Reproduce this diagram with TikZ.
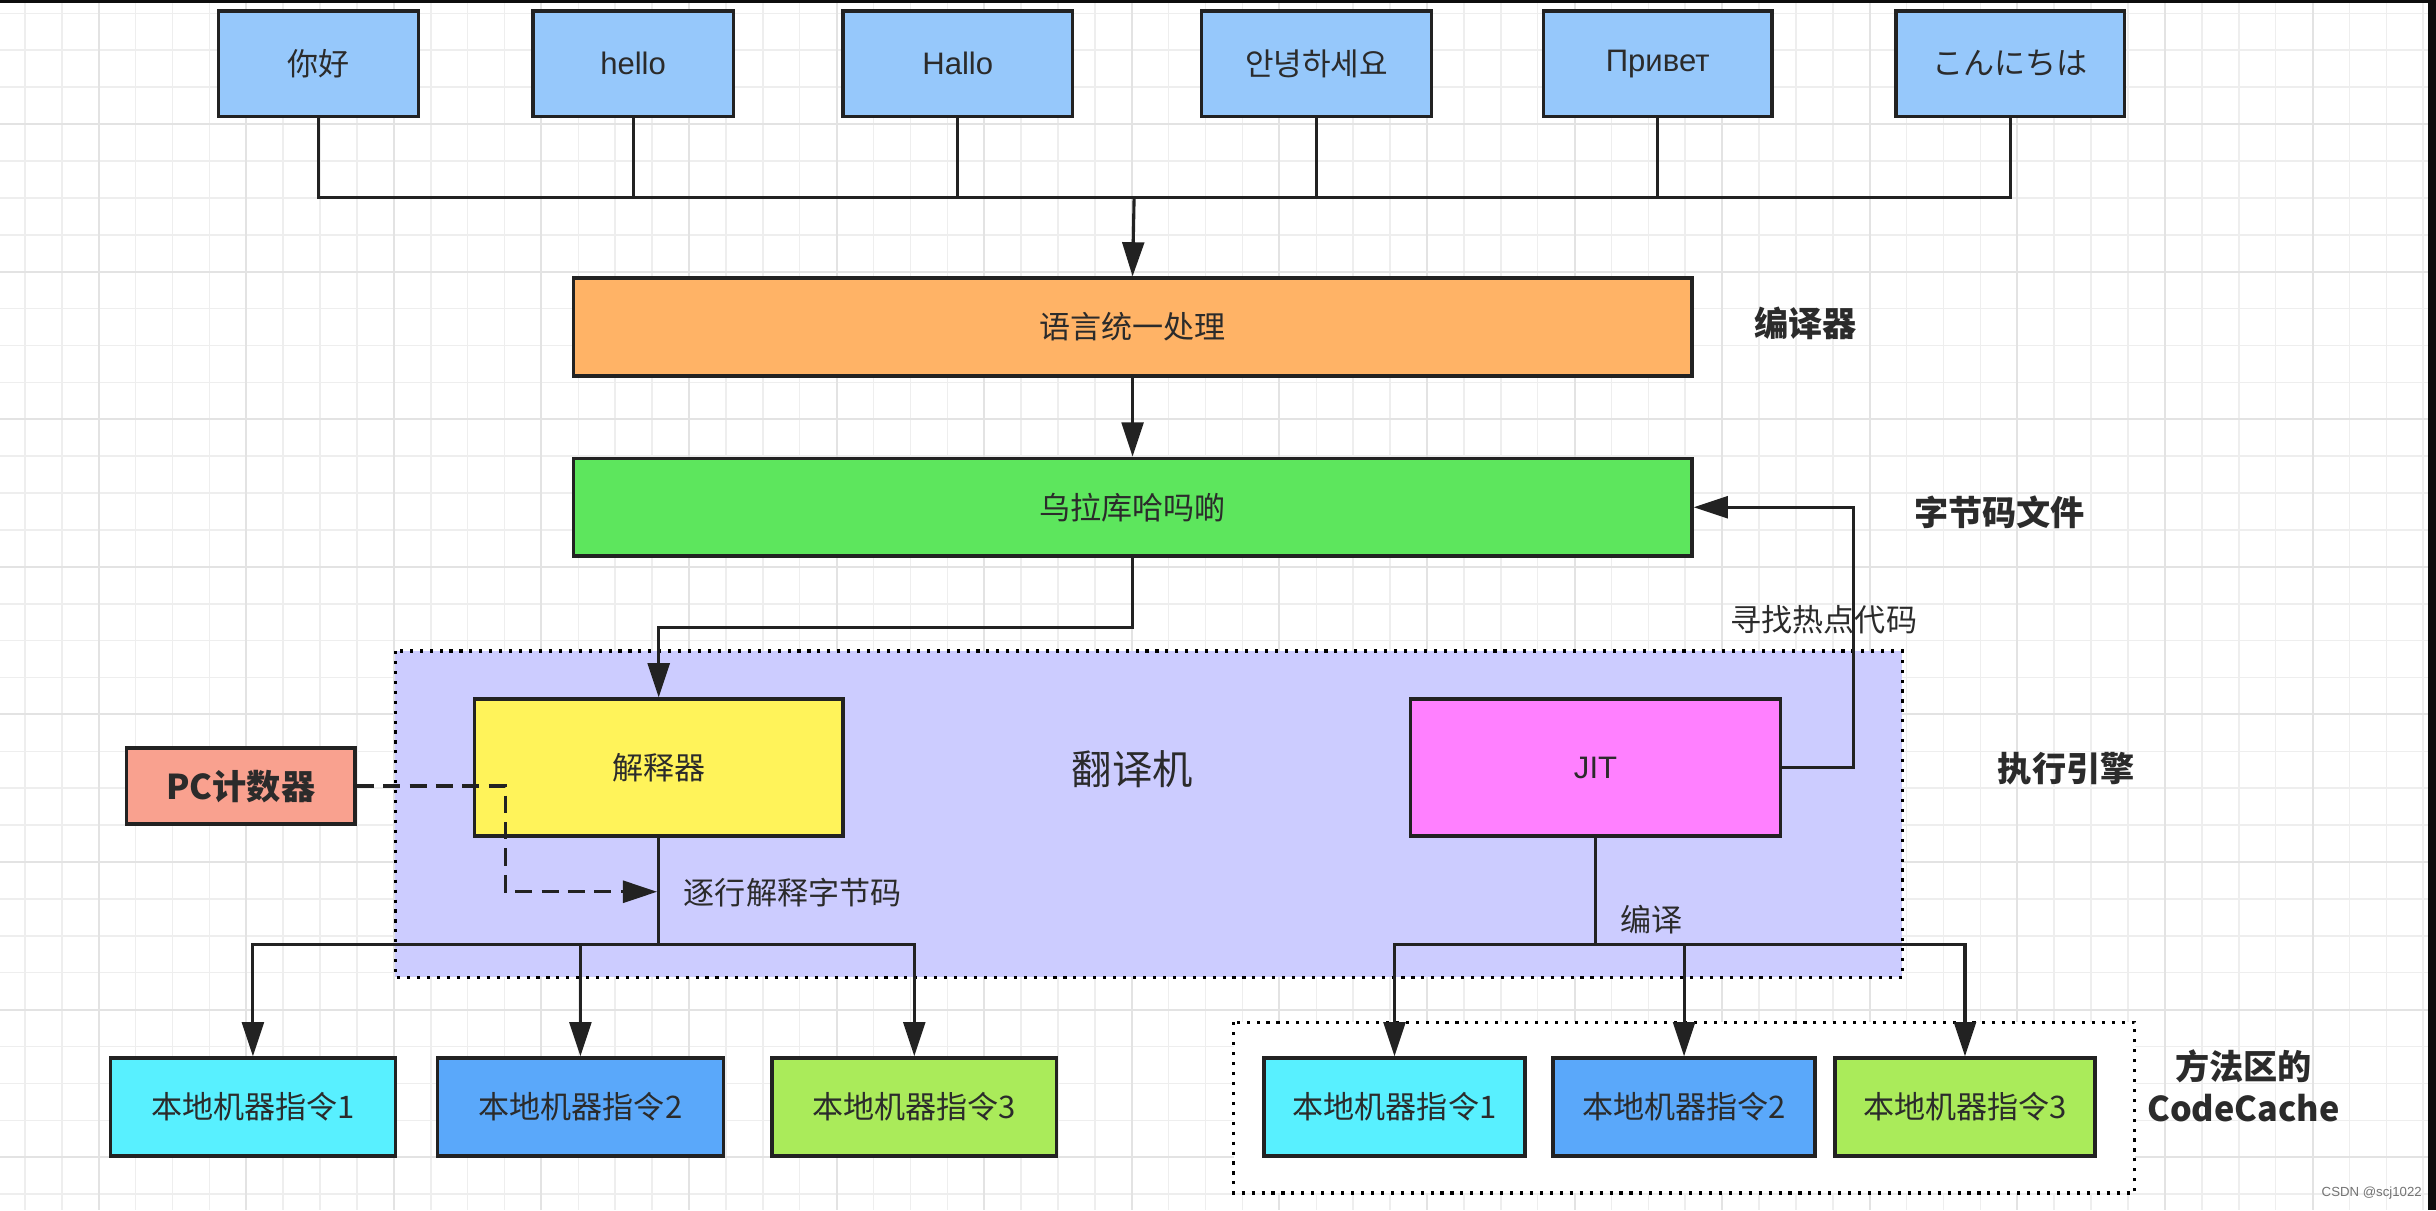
\documentclass[tikz,border=0pt]{standalone}
\usepackage{fontspec}
\setmainfont{Noto Sans CJK SC}
\newfontfamily\latf{Liberation Sans}
\usetikzlibrary{arrows.meta}
\definecolor{cTop}{HTML}{96C8FB}
\definecolor{cOrange}{HTML}{FFB366}
\definecolor{cGreen}{HTML}{5DE65D}
\definecolor{cLav}{HTML}{CCCCFF}
\definecolor{cYellow}{HTML}{FFF35A}
\definecolor{cMag}{HTML}{FF80FF}
\definecolor{cPC}{HTML}{F9A18F}
\definecolor{cCyan}{HTML}{58F0FF}
\definecolor{cBlue}{HTML}{5AA8FA}
\definecolor{cLime}{HTML}{AAEB5A}
\definecolor{cInk}{HTML}{2B2B2B}
\definecolor{cLine}{HTML}{222222}
\definecolor{gMinor}{HTML}{EEEEEE}
\definecolor{gMajor}{HTML}{E3E3E3}
\begin{document}
\begin{tikzpicture}[x=1pt,y=-1pt,
  box/.style={draw=cLine, line width=2.2pt, rectangle, inner sep=0pt, text=cInk,
              font=\fontsize{20}{24}\selectfont},
  conn/.style={draw=cLine, line width=2pt},
  arr/.style={conn, -{Triangle[length=22pt,width=14pt]}},
  dasharr/.style={draw=cLine, line width=2.2pt, dash pattern=on 11pt off 6pt,
                  -{Triangle[length=22pt,width=14pt]}},
  region/.style={draw=black, line width=2.2pt, dash pattern=on 2pt off 4.4pt},
  lbl/.style={font=\fontsize{22}{27}\selectfont\bfseries, text=cInk, align=center},
  note/.style={font=\fontsize{20}{24}\selectfont, text=cInk, inner sep=0pt}]
% page and background
\useasboundingbox (0,0) rectangle (1568,779);
\fill[white] (0,0) rectangle (1568,779);
\foreach \x in {16,39.75,...,1568} \draw[gMinor, line width=1pt] (\x,0) -- (\x,779);
\foreach \y in {8.6,32.35,...,779} \draw[gMinor, line width=1pt] (0,\y) -- (1568,\y);
\foreach \x in {63.5,158.5,...,1568} \draw[gMajor, line width=1.3pt] (\x,0) -- (\x,779);
\foreach \y in {79.85,174.85,...,779} \draw[gMajor, line width=1.3pt] (0,\y) -- (1568,\y);
% containers
\draw[region, fill=cLav] (254.5,419) rectangle (1224.5,629);
\draw[region, fill=white] (794,658) rectangle (1374,768);
% top language boxes
\node[box, fill=cTop, minimum width=129pt, minimum height=68pt] (n1) at (205,41) {你好};
\node[box, fill=cTop, minimum width=129pt, minimum height=68pt] (n2) at (407.5,41) {\latf hello};
\node[box, fill=cTop, minimum width=148pt, minimum height=68pt] (n3) at (616.5,41) {\latf Hallo};
\node[box, fill=cTop, minimum width=148pt, minimum height=68pt] (n4) at (847.5,41) {안녕하세요};
\node[box, fill=cTop, minimum width=147pt, minimum height=68pt] (n5) at (1067,41) {\latf Привет};
\node[box, fill=cTop, minimum width=147pt, minimum height=68pt] (n6) at (1294,41) {こんにちは};
% main boxes
\node[box, fill=cOrange, minimum width=720pt, minimum height=63pt] (lang) at (729,210.5) {语言统一处理};
\node[box, fill=cGreen, minimum width=720pt, minimum height=63pt] (byte) at (729,326.5) {乌拉库哈吗啲};
\node[box, fill=cYellow, minimum width=237pt, minimum height=88pt] (interp) at (424,494) {解释器};
\node[box, fill=cMag, minimum width=238pt, minimum height=88pt] (jit) at (1027,494) {\latf JIT};
\node[box, fill=cPC, minimum width=147pt, minimum height=49pt, font=\fontsize{22}{26}\selectfont\bfseries] (pc) at (155,506) {PC计数器};
% bottom boxes
\node[box, fill=cCyan, minimum width=183.5pt, minimum height=63pt] (l1) at (162.8,712.5) {本地机器指令1};
\node[box, fill=cBlue, minimum width=184pt, minimum height=63pt] (l2) at (373.6,712.5) {本地机器指令2};
\node[box, fill=cLime, minimum width=183pt, minimum height=63pt] (l3) at (588.5,712.5) {本地机器指令3};
\node[box, fill=cCyan, minimum width=168pt, minimum height=63pt] (r1) at (897.6,712.5) {本地机器指令1};
\node[box, fill=cBlue, minimum width=168.5pt, minimum height=63pt] (r2) at (1084,712.5) {本地机器指令2};
\node[box, fill=cLime, minimum width=167.5pt, minimum height=63pt] (r3) at (1264.8,712.5) {本地机器指令3};
% side labels
\node[lbl] (tCompiler) at (1162,208) {编译器};
\node[lbl] (tBytecode) at (1287,330) {字节码文件};
\node[lbl] (tEngine) at (1330,495) {执行引擎};
\node[lbl] (tCache) at (1444,699) {方法区的\\CodeCache};
\node[font=\fontsize{26}{30}\selectfont, text=cInk] (tTrans) at (729,495) {翻译机};
% connectors
\coordinate (bus) at (730,127);
\foreach \n in {n1,n2,n3,n4,n5,n6} \draw[conn] (\n.south) |- (bus);
\draw[arr] (bus) -- (lang.north);
\draw[arr] (lang.south) -- (byte.north);
\coordinate (bend1) at (729,404);
\draw[arr] (byte.south) -- (bend1) -| (interp.north);
\coordinate (jb) at (1193,494);
\draw[arr] (jit.east) -- (jb) |- (byte.east);
\node[note, anchor=center] (tHot) at (1174,399) {寻找热点代码};
\coordinate (d1) at (325.5,506);
\coordinate (d2) at (423,574);
\draw[dasharr] (pc.east) -- (d1) |- (d2);
\node[note, anchor=west] (tLine) at (440,574.5) {逐行解释字节码};
\coordinate (ib) at (424,608);
\draw[conn] (interp.south) -- (ib);
\foreach \n in {l1,l2,l3} \draw[arr] (ib) -| (\n.north);
\coordinate (jbus) at (1027,608);
\draw[conn] (jit.south) -- (jbus);
\foreach \n in {r1,r2,r3} \draw[arr] (jbus) -| (\n.north);
\node[note] (tComp) at (1063,592) {编译};
% watermark and frame strips
\node[font=\fontsize{8.5}{10}\selectfont\latf, text=black!55, anchor=east, inner sep=0pt] (wm) at (1559,768) {CSDN @scj1022};
\fill[black!95] (0,0) rectangle (1568,1.8);
\fill[black!95] (1562.6,0) rectangle (1568,779);
\end{tikzpicture}
\end{document}
